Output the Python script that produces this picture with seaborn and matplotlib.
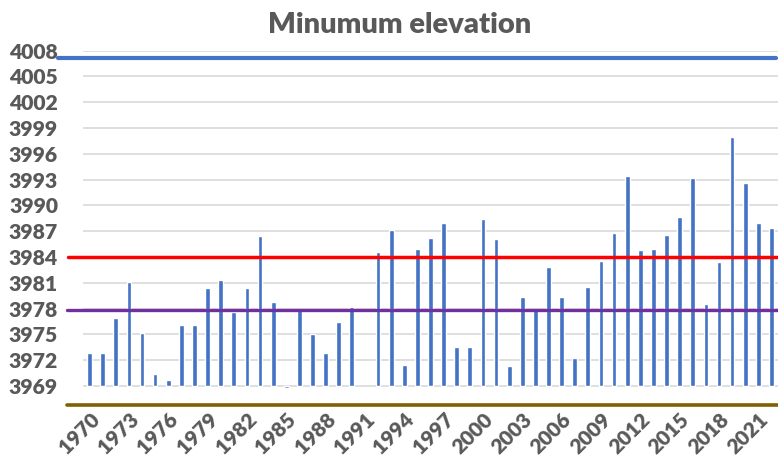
import numpy as np
import pandas as pd
import matplotlib.pyplot as plt
import seaborn as sns

sns.set_style('white')
plt.rcParams['font.family'] = ['Lato', 'DejaVu Sans']

years = list(range(1970, 2023))
min_elev = [3972.85, 3972.85, 3976.9, 3981.1, 3975.15, 3970.4, 3969.7, 3976.1, 3976.1, 3980.4,
            3981.3, 3977.6, 3980.4, 3986.5, 3978.8, 3968.8, 3977.85, 3975.0, 3972.9, 3976.5,
            3978.2, np.nan, 3984.6, 3987.15, 3971.5, 3984.9, 3986.2, 3988.0, 3973.5, 3973.5,
            3988.4, 3986.1, 3971.3, 3979.4, 3977.85, 3982.8, 3979.4, 3972.3, 3980.5, 3983.5,
            3986.8, 3993.4, 3984.8, 3984.9, 3986.6, 3988.7, 3993.15, 3978.55, 3983.4, 3998.0,
            3992.65, 3988.0, 3987.4]

# reference levels drawn across the chart
ref_levels = [4007.1, 3984.0, 3977.8, 3966.8]
ref_colors = ['#4472C4', '#FF0000', '#7030A0', '#806000']

base = 3969
ytick_vals = list(range(3969, 4009, 3))
text_col = '#595959'

df = pd.DataFrame({'year': [str(y) for y in years], 'elev': min_elev})
df['above_base'] = df['elev'] - base

fig, ax = plt.subplots(figsize=(7.78, 4.66), dpi=100)
fig.subplots_adjust(left=83/778, right=1.0, top=1-50.7/466, bottom=1-405/466)

sns.barplot(data=df, x='year', y='above_base', order=df['year'], color='#4472C4',
            saturation=1, width=0.36, errorbar=None, bottom=base, ax=ax)

ax.set_ylim(3966.8, 4008)
ax.set_yticks(ytick_vals)
ax.set_yticklabels([str(v) for v in ytick_vals], fontsize=15.2, fontweight='heavy', color=text_col)
ax.yaxis.grid(True, color='#D9D9D9', linewidth=1.2)
ax.set_axisbelow(True)
ax.tick_params(axis='y', length=0, pad=18)

xt = list(range(0, len(years), 3))
ax.set_xticks(xt)
ax.set_xticklabels([df['year'][i] for i in xt], rotation=45, ha='right', rotation_mode='anchor',
                   fontsize=15, fontweight='heavy', color=text_col)
ax.tick_params(axis='x', length=0, pad=3)
ax.set_xlabel('')
ax.set_ylabel('')
sns.despine(ax=ax, left=True, bottom=True)

starts = [-0.036, -0.0216, -0.023, -0.023]
ends = [0.997, 1.0, 1.0, 1.0]
widths = [3.0, 2.5, 2.4, 2.6]
for lvl, col, s, e, w in zip(ref_levels, ref_colors, starts, ends, widths):
    ax.axhline(lvl, xmin=s, xmax=e, color=col, linewidth=w, clip_on=False, zorder=3)

fig.text(400/778, 1-33/466, 'Minumum elevation', ha='center', va='baseline',
         fontsize=21, fontweight='heavy', color=text_col)

plt.savefig('out.png', dpi=100)
